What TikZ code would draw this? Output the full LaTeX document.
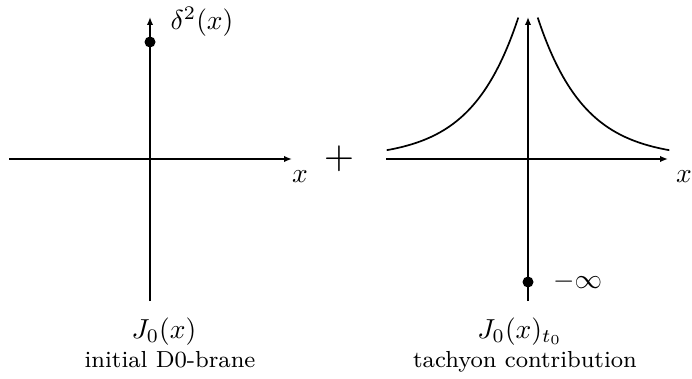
\documentclass[tikz,border=0pt]{standalone}
\usetikzlibrary{arrows.meta}
\newcommand{\mysc}[2]{\scalebox{#1}{#2}}
\begin{document}
\begin{tikzpicture}[x=1pt,y=-1pt,
  axis/.style={line width=1.8pt,-{Latex[length=8pt,width=6.5pt]}},
  curve/.style={line width=1.7pt},
  dot/.style={circle,fill=black,inner sep=0pt,minimum size=11pt},
  mlabel/.style={font=\normalsize,inner sep=0pt},
  tlabel/.style={font=\footnotesize,inner sep=0pt}]
\useasboundingbox (0,0) rectangle (692,379);
% left diagram
\coordinate (L0) at (9,159);
\coordinate (L1) at (292,159);
\coordinate (Lb) at (150,301);
\coordinate (Lt) at (150,17);
\draw[axis] (L0) -- (L1);
\draw[axis] (Lb) -- (Lt);
\node[dot] (d1) at (150,42) {};
\node[mlabel] (delta) at (202,22) {\mysc{2.75}{$\delta^2(x)$}};
\node[mlabel,anchor=base] (xl) at (300,183) {\mysc{2.75}{$x$}};
\node[mlabel,anchor=base] (J1) at (164,338) {\mysc{2.75}{$J_0(x)$}};
\node[tlabel,anchor=base] (t1) at (170,367) {\mysc{2.9}{initial D0-brane}};
% plus
\node[mlabel] (plus) at (339,159) {\mysc{3.9}{$+$}};
% right diagram
\coordinate (R0) at (386,159);
\coordinate (R1) at (668,159);
\coordinate (Rb) at (528,301);
\coordinate (Rt) at (528,17);
\draw[axis] (R0) -- (R1);
\draw[axis] (Rb) -- (Rt);
\draw[curve] plot[domain=386.7:518.3,samples=120] (\x,{158.5-173.6*exp(0.0215*(\x-528))});
\draw[curve] plot[domain=537.7:669.3,samples=120] (\x,{158.5-173.6*exp(-0.0215*(\x-528))});
\node[dot] (d2) at (528,282) {};
\node[mlabel,anchor=west] (minf) at (553,282) {\mysc{2.75}{$-\infty$}};
\node[mlabel,anchor=base] (xr) at (684,183) {\mysc{2.75}{$x$}};
\node[mlabel,anchor=base] (J2) at (520,338) {\mysc{2.75}{$J_0(x)_{t_0}$}};
\node[tlabel,anchor=base] (t2) at (525,367) {\mysc{2.9}{tachyon contribution}};
\end{tikzpicture}
\end{document}
